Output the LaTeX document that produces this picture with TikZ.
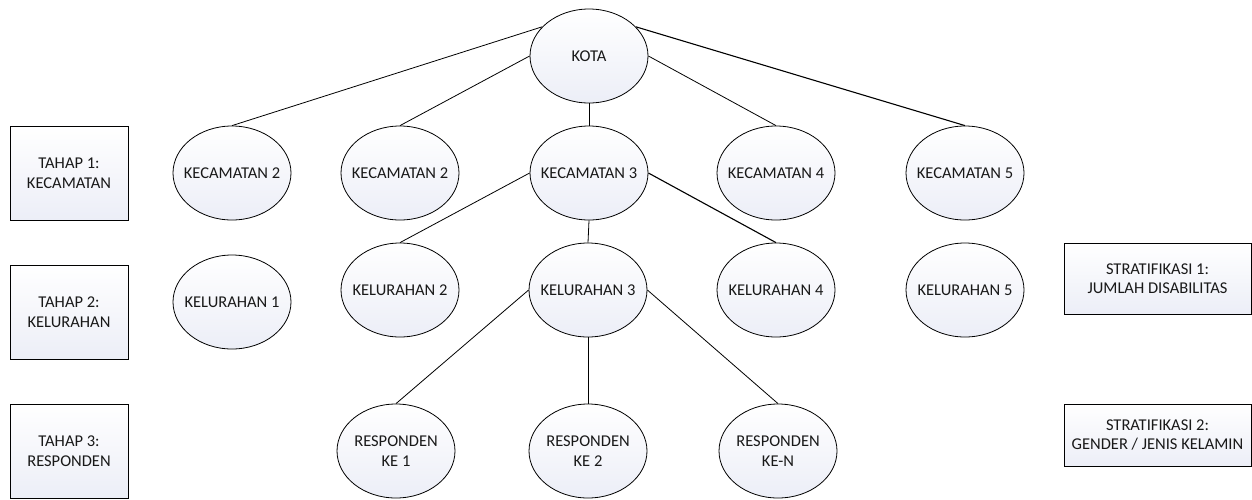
\documentclass[tikz,border=0pt]{standalone}
\usepackage{fontspec}
\setmainfont{Carlito}
\usetikzlibrary{shapes.geometric}
\definecolor{shadebot}{RGB}{236,238,247}
\begin{document}
\begin{tikzpicture}[x=1pt,y=-1pt,
  every node/.style={font=\fontsize{16.5}{19.5}\selectfont, align=center, text=black!90},
  oval/.style={ellipse, draw=black, line width=0.8pt, minimum width=118pt, minimum height=94pt, inner ysep=0pt, inner xsep=-30pt, top color=white, bottom color=shadebot},
  label box/.style={rectangle, draw=black, line width=0.8pt, inner sep=0pt, top color=white, bottom color=shadebot},
  link/.style={draw=black, line width=0.8pt}]
\useasboundingbox (0,0) rectangle (1252,499);
% side boxes
\node[label box, minimum width=118pt, minimum height=94pt] (t1) at (69,173) {TAHAP 1:\\KECAMATAN};
\node[label box, minimum width=118pt, minimum height=94pt] (t2) at (69,312) {TAHAP 2:\\KELURAHAN};
\node[label box, minimum width=118pt, minimum height=94pt] (t3) at (69,451) {TAHAP 3:\\RESPONDEN};
\node[label box, minimum width=187pt, minimum height=71pt] (s1) at (1157.5,278.5) {STRATIFIKASI 1:\\JUMLAH DISABILITAS};
\node[label box, minimum width=187pt, minimum height=62pt] (s2) at (1157.5,435) {STRATIFIKASI 2:\\GENDER / JENIS KELAMIN};
% tree
\node[oval] (kota) at (589,56) {KOTA};
\node[oval] (kec2a) at (232,173) {KECAMATAN 2};
\node[oval] (kec2b) at (400,173) {KECAMATAN 2};
\node[oval] (kec3) at (589,173) {KECAMATAN 3};
\node[oval] (kec4) at (776,173) {KECAMATAN 4};
\node[oval] (kec5) at (965,173) {KECAMATAN 5};
\node[oval] (kel1) at (232,302) {KELURAHAN 1};
\node[oval] (kel2) at (400,290) {KELURAHAN 2};
\node[oval] (kel3) at (588,290) {KELURAHAN 3};
\node[oval] (kel4) at (776,290) {KELURAHAN 4};
\node[oval] (kel5) at (965,290) {KELURAHAN 5};
\node[oval] (r1) at (396,451) {RESPONDEN\\KE 1};
\node[oval] (r2) at (588,451) {RESPONDEN\\KE 2};
\node[oval] (r3) at (778,451) {RESPONDEN\\KE-N};
% connectors
\draw[link] (kota.148) -- (kec2a.north);
\draw[link] (kota.west) -- (kec2b.north);
\draw[link] (kota.south) -- (kec3.north);
\draw[link] (kota.east) -- (kec4.north);
\draw[link, line width=1.1pt] (kota.32) -- (kec5.north);
\draw[link] (kec3.west) -- (kel2.north);
\draw[link] (kec3.south) -- (kel3.north);
\draw[link, line width=1.1pt] (kec3.east) -- (kel4.north);
\draw[link] (kel3.west) -- (r1.north);
\draw[link] (kel3.south) -- (r2.north);
\draw[link] (kel3.east) -- (r3.north);
\end{tikzpicture}
\end{document}
